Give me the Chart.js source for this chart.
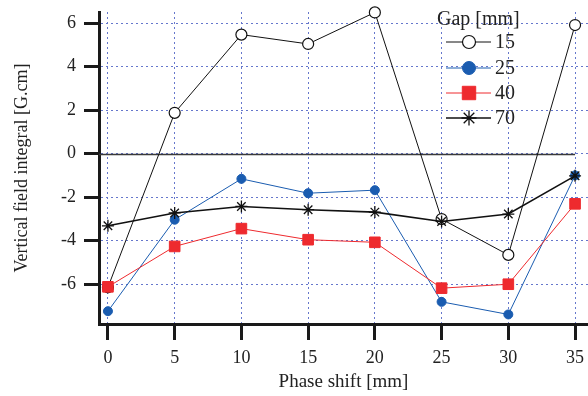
<!DOCTYPE html>
<html>
<head>
<meta charset="utf-8">
<script src="https://cdn.jsdelivr.net/npm/chart.js@4/dist/chart.umd.min.js"></script>
<style>
  html, body { margin: 0; padding: 0; background: #fff; }
  #wrap { width: 588px; height: 396px; }
</style>
</head>
<body>
<div id="wrap"><canvas id="c"></canvas></div>
<script>
const phaseShift = [0, 5, 10, 15, 20, 25, 30, 35];
const gap15 = [-6.15, 1.88, 5.48, 5.05, 6.5, -3.01, -4.66, 5.92];
const gap25 = [-7.25, -3.04, -1.16, -1.82, -1.68, -6.82, -7.4, -1.0];
const gap40 = [-6.13, -4.27, -3.45, -3.96, -4.08, -6.19, -6.01, -2.31];
const gap70 = [-3.32, -2.73, -2.43, -2.58, -2.69, -3.12, -2.78, -1.02];
const xTicks = [0, 5, 10, 15, 20, 25, 30, 35];
const yTicks = [-6, -4, -2, 0, 2, 4, 6];
const legendLabels = ['15', '25', '40', '70'];

const serif = '"Liberation Serif", "Times New Roman", serif';
const toPts = vals => vals.map((v, i) => ({ x: phaseShift[i], y: v }));

// zero line + "Gap [mm]" legend with line samples
const extras = {
    id: 'extras',
    beforeDatasetsDraw(chart) {
        const { ctx, chartArea, scales } = chart;
        const y0 = Math.round(scales.y.getPixelForValue(0)) + 0.5;
        ctx.save();
        ctx.strokeStyle = '#3a3a3a';
        ctx.lineWidth = 1.6;
        ctx.beginPath();
        ctx.moveTo(chartArea.left, y0);
        ctx.lineTo(scales.x.getPixelForValue(35), y0);
        ctx.stroke();
        ctx.restore();
    },
    afterDraw(chart) {
        const { ctx } = chart;
        ctx.save();
        ctx.fillStyle = '#222';
        ctx.font = '20px ' + serif;
        ctx.textBaseline = 'middle';
        ctx.textAlign = 'left';
        ctx.fillText('Gap [mm]', 437, 20);
        const rows = [42, 68, 93, 118];
        chart.data.datasets.forEach((ds, i) => {
            const y = rows[i];
            ctx.strokeStyle = ds.borderColor;
            ctx.lineWidth = ds.borderWidth;
            ctx.beginPath();
            ctx.moveTo(446, y);
            ctx.lineTo(491, y);
            ctx.stroke();
            ctx.fillStyle = ds.pointBackgroundColor;
            ctx.strokeStyle = ds.pointBorderColor;
            ctx.lineWidth = ds.pointBorderWidth;
            Chart.helpers.drawPoint(ctx, {
                pointStyle: ds.pointStyle,
                radius: ds.legendRadius,
                borderWidth: ds.pointBorderWidth
            }, 469, y);
            ctx.fillStyle = '#222';
            ctx.fillText(legendLabels[i], 495, y + 1);
        });
        ctx.restore();
    }
};

new Chart(document.getElementById('c'), {
    type: 'line',
    data: {
        datasets: [{
            label: '15',
            data: toPts(gap15),
            order: 4,
            borderColor: '#111',
            borderWidth: 1,
            pointStyle: 'circle',
            pointRadius: 5.5,
            legendRadius: 6.5,
            pointBackgroundColor: '#fff',
            pointBorderColor: '#111',
            pointBorderWidth: 1.2
        }, {
            label: '25',
            data: toPts(gap25),
            order: 3,
            borderColor: '#1a5cb0',
            borderWidth: 1,
            pointStyle: 'circle',
            pointRadius: 4.5,
            legendRadius: 6.5,
            pointBackgroundColor: '#1a5cb0',
            pointBorderColor: '#1a5cb0',
            pointBorderWidth: 1
        }, {
            label: '40',
            data: toPts(gap40),
            order: 2,
            borderColor: '#ee2a2e',
            borderWidth: 1,
            pointStyle: 'rect',
            pointRadius: 7.5,
            legendRadius: 9.5,
            pointBackgroundColor: '#ee2a2e',
            pointBorderColor: '#ee2a2e',
            pointBorderWidth: 1
        }, {
            label: '70',
            data: toPts(gap70),
            order: 1,
            borderColor: '#111',
            borderWidth: 1.6,
            pointStyle: 'star',
            pointRadius: 6,
            legendRadius: 7.5,
            pointBackgroundColor: '#111',
            pointBorderColor: '#111',
            pointBorderWidth: 1.3
        }]
    },
    options: {
        responsive: true,
        maintainAspectRatio: false,
        animation: false,
        layout: { autoPadding: false, padding: { top: 12, right: 0, left: 0, bottom: 0 } },
        elements: { line: { tension: 0 } },
        datasets: { line: { clip: false } },
        plugins: { legend: { display: false }, tooltip: { enabled: false } },
        scales: {
            x: {
                type: 'linear',
                min: -0.67,
                max: 35.97,
                afterBuildTicks: s => { s.ticks = xTicks.map(v => ({ value: v })); },
                afterFit: s => { s.height = 72; s.paddingLeft = 0; s.paddingRight = 0; },
                grid: {
                    color: '#6677cc',
                    lineWidth: 1,
                    tickLength: 16,
                    tickWidth: 3,
                    tickColor: '#1a1a1a',
                    tickBorderDash: []
                },
                border: { color: '#1a1a1a', width: 3, dash: [2, 3] },
                ticks: { color: '#222', font: { family: serif, size: 18 }, padding: 7, maxRotation: 0 },
                title: {
                    display: true,
                    text: 'Phase shift [mm]',
                    color: '#222',
                    font: { family: serif, size: 19 },
                    padding: { top: 0, bottom: 3 }
                }
            },
            y: {
                min: -7.84,
                max: 6.52,
                afterBuildTicks: s => { s.ticks = yTicks.map(v => ({ value: v })); },
                afterFit: s => { s.width = 99; s.paddingTop = 0; s.paddingBottom = 0; },
                grid: {
                    color: '#6677cc',
                    lineWidth: 1,
                    tickLength: 15,
                    tickWidth: 3,
                    tickColor: '#1a1a1a',
                    tickBorderDash: []
                },
                border: { color: '#1a1a1a', width: 3, dash: [2, 3] },
                ticks: { color: '#222', font: { family: serif, size: 18 }, padding: 8 },
                title: {
                    display: true,
                    text: 'Vertical field integral [G.cm]',
                    color: '#222',
                    font: { family: serif, size: 18 },
                    padding: { top: 11, bottom: 0 }
                }
            }
        }
    },
    plugins: [extras]
});
</script>
</body>
</html>
